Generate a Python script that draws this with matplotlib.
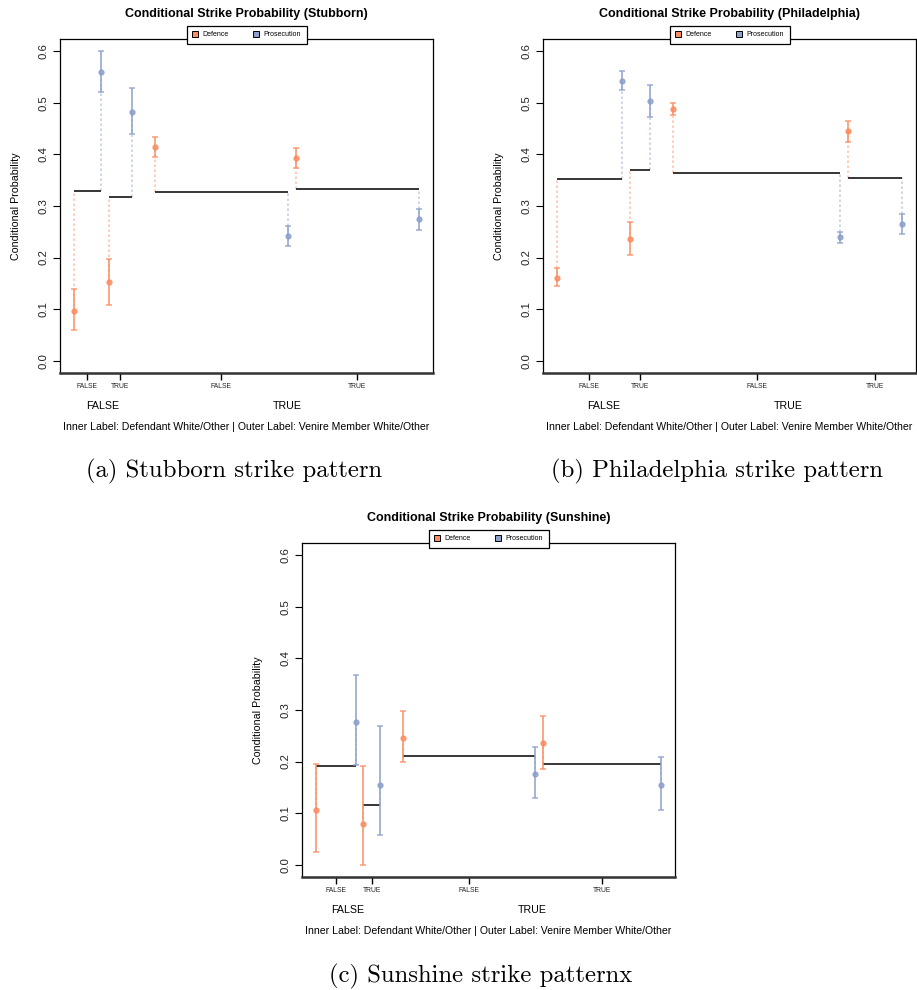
import matplotlib

matplotlib.use("Agg")
import matplotlib.pyplot as plt
import matplotlib.transforms as mtransforms
from matplotlib.lines import Line2D

plt.rcParams["font.family"] = ["Liberation Sans", "DejaVu Sans"]

DEF_COLOR = "#FC8D62"
PROS_COLOR = "#8DA0CB"

inner_labels = ["FALSE", "TRUE", "FALSE", "TRUE"]
outer_labels = ["FALSE", "TRUE"]

# share of venire members in each (venire, defendant) cell
stubborn_share = [0.089, 0.075, 0.434, 0.402]
stubborn_base = [0.329, 0.317, 0.328, 0.333]
stubborn_def = [0.097, 0.152, 0.415, 0.393]
stubborn_def_lo = [0.059, 0.108, 0.395, 0.374]
stubborn_def_hi = [0.139, 0.198, 0.434, 0.413]
stubborn_pros = [0.560, 0.483, 0.241, 0.274]
stubborn_pros_lo = [0.521, 0.439, 0.222, 0.254]
stubborn_pros_hi = [0.600, 0.528, 0.261, 0.294]

phila_share = [0.212, 0.068, 0.542, 0.178]
phila_base = [0.352, 0.370, 0.364, 0.355]
phila_def = [0.161, 0.236, 0.488, 0.445]
phila_def_lo = [0.144, 0.205, 0.477, 0.425]
phila_def_hi = [0.179, 0.268, 0.499, 0.465]
phila_pros = [0.543, 0.503, 0.239, 0.265]
phila_pros_lo = [0.525, 0.473, 0.228, 0.245]
phila_pros_hi = [0.561, 0.534, 0.250, 0.285]

sunshine_share = [0.130, 0.054, 0.430, 0.386]
sunshine_base = [0.191, 0.116, 0.211, 0.196]
sunshine_def = [0.106, 0.078, 0.246, 0.236]
sunshine_def_lo = [0.025, 0.000, 0.199, 0.186]
sunshine_def_hi = [0.196, 0.191, 0.298, 0.288]
sunshine_pros = [0.276, 0.154, 0.176, 0.155]
sunshine_pros_lo = [0.194, 0.058, 0.129, 0.106]
sunshine_pros_hi = [0.368, 0.269, 0.229, 0.208]

FIG_W, FIG_H = 917, 990


def px_rect(left, top, right, bottom):
    return [left / FIG_W, 1 - bottom / FIG_H, (right - left) / FIG_W, (bottom - top) / FIG_H]


def draw_panel(fig, rect, name, share, base, d, d_lo, d_hi, p, p_lo, p_hi):
    ax = fig.add_axes(rect)
    inner_gap, outer_gap = 0.025, 0.075
    x = 0.0
    starts, ends = [], []
    for i, w in enumerate(share):
        starts.append(x)
        ends.append(x + w)
        x += w + (outer_gap if i == 1 else inner_gap)
    span = ends[-1] - starts[0]
    ax.set_xlim(-0.04 * span, ends[-1] + 0.04 * span)
    ax.set_ylim(-0.024, 0.624)

    for i in range(len(share)):
        x0, x1 = starts[i], ends[i]
        ax.hlines(base[i], x0, x1, color="black", lw=1.1, zorder=3)
        ax.vlines(x0, min(d[i], base[i]), max(d[i], base[i]), color=DEF_COLOR,
                  lw=1.2, ls=(0, (1.5, 1.5)), alpha=0.5, zorder=1)
        ax.vlines(x1, min(p[i], base[i]), max(p[i], base[i]), color=PROS_COLOR,
                  lw=1.2, ls=(0, (1.5, 1.5)), alpha=0.5, zorder=1)
        ax.errorbar([x0], [d[i]], yerr=[[d[i] - d_lo[i]], [d_hi[i] - d[i]]], fmt="o",
                    color=DEF_COLOR, ms=3.5, elinewidth=1.3, capsize=2.2, capthick=1.1,
                    alpha=0.85, zorder=4)
        ax.errorbar([x1], [p[i]], yerr=[[p[i] - p_lo[i]], [p_hi[i] - p[i]]], fmt="o",
                    color=PROS_COLOR, ms=3.5, elinewidth=1.3, capsize=2.2, capthick=1.1,
                    alpha=0.85, zorder=4)

    centers = [(s + e) / 2 for s, e in zip(starts, ends)]
    ax.set_xticks(centers)
    ax.set_xticklabels(inner_labels, fontsize=4.9, color="#222222")
    ax.tick_params(axis="x", length=5, width=1.0, pad=2.5)
    ax.set_yticks([0.0, 0.1, 0.2, 0.3, 0.4, 0.5, 0.6])
    ax.set_yticklabels([f"{v:.1f}" for v in [0.0, 0.1, 0.2, 0.3, 0.4, 0.5, 0.6]],
                       rotation=90, va="center", fontsize=8.2, color="#222222")
    ax.tick_params(axis="y", length=5, width=0.8, pad=3.5)
    for sp in ax.spines.values():
        sp.set_linewidth(0.9)
    ax.spines["bottom"].set_linewidth(1.8)
    ax.spines["bottom"].set_color("#333333")

    trans = mtransforms.blended_transform_factory(ax.transData, ax.transAxes)
    outer_x = [(starts[0] + ends[1]) / 2, (starts[2] + ends[3]) / 2]
    for ox, lab in zip(outer_x, outer_labels):
        ax.text(ox, -0.099, lab, transform=trans, ha="center", va="center", fontsize=7.7)
    ax.text(0.5, -0.163, "Inner Label: Defendant White/Other | Outer Label: Venire Member White/Other",
            transform=ax.transAxes, ha="center", va="center", fontsize=7.6)
    ax.text(-0.118, 0.5, "Conditional Probability", transform=ax.transAxes, rotation=90,
            ha="center", va="center", fontsize=7.7)
    ax.text(0.5, 1.076, f"Conditional Strike Probability ({name})", transform=ax.transAxes,
            ha="center", va="center", fontsize=9.0, fontweight="bold")

    handles = [
        Line2D([], [], marker="s", ls="none", mfc=DEF_COLOR, mec="black", mew=0.7, ms=4.0),
        Line2D([], [], marker="s", ls="none", mfc=PROS_COLOR, mec="black", mew=0.7, ms=4.0),
    ]
    leg = ax.legend(handles, ["Defence", "Prosecution"], loc="center", bbox_to_anchor=(0.5, 1.012),
                    ncol=2, fontsize=5.0, frameon=True, fancybox=False, framealpha=1,
                    edgecolor="black", handlelength=1.0, handletextpad=0.6, columnspacing=3.4,
                    borderpad=0.75)
    leg.get_frame().set_linewidth(0.9)
    leg.set_zorder(10)
    return ax


fig = plt.figure(figsize=(FIG_W / 100, FIG_H / 100), dpi=100)

draw_panel(fig, px_rect(60, 39, 433, 373), "Stubborn", stubborn_share, stubborn_base,
           stubborn_def, stubborn_def_lo, stubborn_def_hi,
           stubborn_pros, stubborn_pros_lo, stubborn_pros_hi)
draw_panel(fig, px_rect(543, 39, 916, 373), "Philadelphia", phila_share, phila_base,
           phila_def, phila_def_lo, phila_def_hi,
           phila_pros, phila_pros_lo, phila_pros_hi)
draw_panel(fig, px_rect(302, 543, 675, 877), "Sunshine", sunshine_share, sunshine_base,
           sunshine_def, sunshine_def_lo, sunshine_def_hi,
           sunshine_pros, sunshine_pros_lo, sunshine_pros_hi)

captions = [
    (234, 471, "(a) Stubborn strike pattern"),
    (717, 471, "(b) Philadelphia strike pattern"),
    (481, 976, "(c) Sunshine strike patternx"),
]
for cx, cy, text in captions:
    fig.text(cx / FIG_W, 1 - cy / FIG_H, text, ha="center", va="center",
             fontsize=17.8, family="cmr10")

fig.savefig("out.png", dpi=100)
